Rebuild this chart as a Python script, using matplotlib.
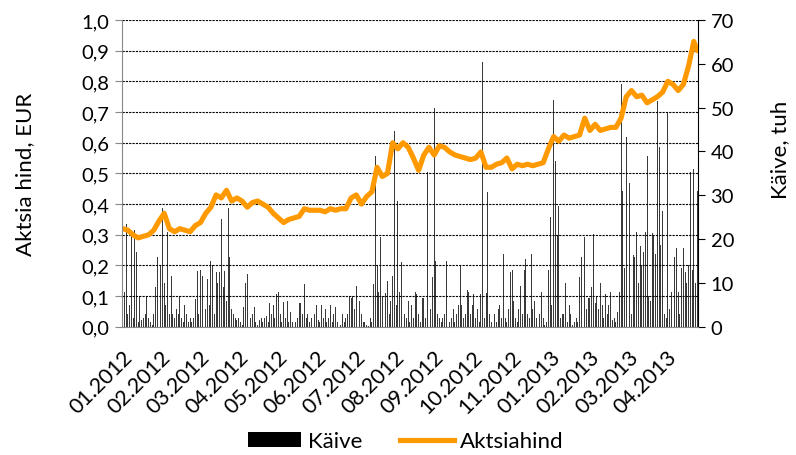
import numpy as np
import matplotlib.pyplot as plt
from matplotlib.ticker import FuncFormatter, MultipleLocator
from matplotlib.patches import Patch
from matplotlib.lines import Line2D

# Käive (turnover, thousands) per trading day, 01.2012 - 04.2013
kaive = [
    28, 8, 23.5, 3, 5, 21, 2, 22, 17, 1,
    7, 1.5, 2, 3, 7, 2, 1, 0.5, 3, 9,
    16, 4, 14, 27, 10, 5, 21.6, 3, 11.6, 3,
    2, 4, 3, 7, 2, 1, 5, 3, 1, 2,
    1, 2, 6.4, 12.8, 3, 13, 11.6, 2, 4, 11,
    5, 15, 14, 3, 12.5, 10, 12.5, 24.6, 9, 12.8,
    6, 27, 16, 4, 3, 2, 1.5, 2, 1, 0.5,
    4.6, 10, 12, 9, 2, 3, 4.5, 1, 0.5, 1.5,
    2, 1, 2, 2.5, 1, 5.5, 3, 5, 2, 7.5,
    8, 3, 1, 5.6, 2, 5.8, 1, 3.5, 1, 0.5,
    1, 2, 5.4, 5.5, 3, 9.8, 2, 3, 1, 2,
    4.5, 3, 5, 1.5, 1, 5, 2, 4, 1, 2,
    5, 1, 3, 4.5, 1, 2, 0.5, 3, 1, 2,
    3, 7, 6.5, 7, 4, 9.4, 5, 6, 3, 1,
    1, 0.5, 0.3, 2, 1, 9.8, 39, 14, 8, 20.5,
    7, 4, 7.8, 10.5, 3, 6, 11.6, 44.7, 5, 28.7,
    8, 14.8, 5, 3, 2, 5.8, 1, 5, 2, 8,
    7.5, 3, 1, 6.5, 6.5, 2, 35.4, 6, 4, 11.4,
    50, 15, 3, 2, 1, 2, 3, 15, 13, 1,
    2, 4, 1, 3, 5, 14, 5, 2, 3, 8.5,
    8, 3, 5, 7.5, 2, 4, 1, 7.5, 60.4, 2,
    7.7, 30.8, 3, 1, 2, 3, 1, 4, 5, 2,
    16.6, 2, 1, 4, 12.6, 13, 6, 2, 1, 4,
    9.4, 3, 13, 15.5, 3, 2, 16.6, 4, 6, 2,
    1, 3, 8, 2, 0.5, 1, 13, 25, 5, 51.7,
    37.8, 20.7, 27.6, 2, 3, 3, 10, 1, 5, 3,
    0.5, 1, 2, 1, 11.4, 16, 21.9, 20.5, 4, 6.5,
    6.5, 9, 21.2, 5.5, 7, 4, 10, 5, 2, 7.5,
    3, 5, 8, 1.5, 2, 1, 3.5, 7.9, 55.4, 31,
    13.5, 43.3, 20.5, 32.8, 3, 16.5, 16, 21.6, 10, 18.4,
    14, 17, 21.6, 39, 7, 6, 21.4, 21, 16.6, 51.5,
    41, 18.7, 26.5, 3, 2, 49, 4, 8, 47.6, 16,
    18, 8, 3, 13.5, 18, 12.5, 10, 14, 35.4, 13, 36, 10, 31,
]

# Aktsiahind (share price, EUR), every third trading day + last day
hind = [
    0.32, 0.315, 0.30, 0.29, 0.295, 0.30, 0.315, 0.345, 0.37, 0.32,
    0.31, 0.32, 0.315, 0.31, 0.33, 0.34, 0.37, 0.39, 0.43, 0.42,
    0.445, 0.41, 0.42, 0.41, 0.39, 0.405, 0.41, 0.40, 0.39, 0.37,
    0.355, 0.34, 0.35, 0.355, 0.36, 0.385, 0.38, 0.38, 0.38, 0.375,
    0.385, 0.38, 0.385, 0.385, 0.42, 0.43, 0.40, 0.425, 0.44, 0.52,
    0.49, 0.50, 0.60, 0.58, 0.60, 0.585, 0.55, 0.51, 0.56, 0.585,
    0.56, 0.59, 0.585, 0.57, 0.56, 0.555, 0.55, 0.545, 0.55, 0.57,
    0.52, 0.52, 0.53, 0.535, 0.55, 0.515, 0.53, 0.525, 0.53, 0.525,
    0.53, 0.535, 0.58, 0.62, 0.605, 0.625, 0.615, 0.62, 0.625, 0.68,
    0.64, 0.66, 0.64, 0.645, 0.65, 0.65, 0.68, 0.75, 0.77, 0.75,
    0.755, 0.73, 0.74, 0.75, 0.765, 0.80, 0.79, 0.77, 0.79, 0.85,
    0.93, 0.90,
]

kuud = ['01.2012', '02.2012', '03.2012', '04.2012', '05.2012', '06.2012',
        '07.2012', '08.2012', '09.2012', '10.2012', '11.2012', '01.2013',
        '02.2013', '03.2013', '04.2013']

n = len(kaive)
paevad = np.arange(n)
hind_paevad = list(range(0, n, 3)) + [n - 1]

plt.rcParams['font.family'] = ['Lato', 'DejaVu Sans']
fig = plt.figure(figsize=(7.96, 4.56), dpi=100)

ax = fig.add_axes([0.153, 0.281, 0.724, 0.673])
axr = ax.twinx()

# bars behind the price line
axr.bar(paevad, kaive, width=0.55, color='#3a3a3a', linewidth=0)
axr.set_ylim(0, 70)
axr.yaxis.set_major_locator(MultipleLocator(10))

ax.set_zorder(axr.get_zorder() + 1)
ax.patch.set_visible(False)
ax.plot(hind_paevad, hind, color='#FF9900', lw=3.7, solid_joinstyle='round',
        solid_capstyle='round')
ax.set_ylim(0, 1.0)
ax.set_xlim(-0.5, n - 0.5)
ax.yaxis.set_major_locator(MultipleLocator(0.1))
ax.yaxis.set_major_formatter(FuncFormatter(lambda v, p: f'{v:.1f}'.replace('.', ',')))
ax.grid(axis='y', color='black', linestyle=(0, (2, 1)), lw=0.8)

# month labels every ~22 trading days
ax.set_xticks(np.arange(len(kuud)) * 22.5 - 0.5)
ax.set_xticklabels(kuud, rotation=45, ha='right', va='top', rotation_mode='anchor')
ax.tick_params(axis='x', length=0, labelsize=15.5, pad=14)
ax.tick_params(axis='y', labelsize=14.5, length=5, color='#888888', pad=4)
axr.tick_params(axis='y', labelsize=14.5, length=5, pad=4)

for a in (ax, axr):
    a.spines['top'].set_visible(False)
ax.spines['left'].set_color('#888888')
ax.spines['bottom'].set_color('#888888')
ax.spines['right'].set_visible(False)
axr.spines['left'].set_visible(False)
axr.spines['bottom'].set_visible(False)

ax.set_ylabel('Aktsia hind, EUR', fontsize=16, va='center')
ax.yaxis.set_label_coords(-0.167, 0.5)
axr.set_ylabel('Käive, tuh', fontsize=16, va='center', rotation=90)
axr.yaxis.set_label_coords(1.142, 0.58)

handles = [Patch(facecolor='black', edgecolor='none'),
           Line2D([], [], color='#FF9900', lw=3.7)]
fig.legend(handles, ['Käive', 'Aktsiahind'], loc='center', bbox_to_anchor=(0.51, 0.03),
           ncol=2, frameon=False, fontsize=16, handlelength=2.4, handleheight=0.7,
           columnspacing=1.7, handletextpad=0.3, borderpad=0)

fig.savefig('out.png', dpi=100)
